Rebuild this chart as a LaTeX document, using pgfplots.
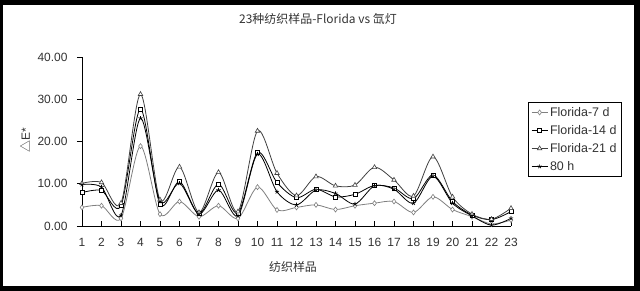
\documentclass[border=0pt]{standalone}
\usepackage{pgfplots}
\pgfplotsset{compat=1.18}
\usepackage{pgfplotstable}
\usepackage{fontspec}
\setmainfont{Liberation Sans}
\newfontfamily\cjk{Noto Sans CJK SC}
\definecolor{grayA}{HTML}{808080}
\definecolor{grayB}{HTML}{404040}
\definecolor{txt}{HTML}{333333}
\pgfplotstableread{
x d7 d14 d21 h80
1 4.4 7.9 10.1 9.8
2 4.8 8.4 10.3 9.2
3 1.8 4.8 5.4 2.5
4 18.9 27.7 31.2 25.5
5 2.8 5.1 6.2 5.8
6 5.8 10.5 14.0 10.1
7 2.2 2.9 3.2 2.8
8 4.8 9.9 12.7 8.5
9 1.8 3.0 3.4 2.4
10 9.2 17.4 22.5 17.0
11 3.8 10.3 12.5 8.1
12 4.4 6.7 7.2 5.0
13 5.0 8.7 11.7 8.5
14 3.9 6.9 9.5 7.7
15 4.8 7.5 9.7 5.2
16 5.4 9.6 13.9 9.5
17 5.8 9.0 10.9 8.7
18 3.2 6.5 7.1 5.4
19 6.9 12.1 16.4 11.8
20 3.9 5.8 6.9 5.4
21 2.2 2.6 2.8 2.4
22 0.5 1.5 1.6 0.2
23 1.4 3.4 4.2 1.8
}\data
\begin{document}
\begin{tikzpicture}
\fill[black] (0bp,0bp) rectangle (640bp,291bp);
\fill[white] (3bp,5bp) rectangle (634bp,286bp);
\node[font=\cjk\fontsize{12}{14}\selectfont, text=txt] at (318bp,272bp) {23种纺织样品-Florida vs 氙灯};
\node[font=\cjk\fontsize{12}{14}\selectfont, text=txt] at (293bp,24bp) {纺织样品};
\node[font=\fontsize{12}{14}\selectfont, text=txt, rotate=90] at (25bp,151bp) {{\cjk △}E*};
\begin{axis}[at={(82bp,65bp)}, anchor=south west, scale only axis,
  width=429bp, height=169bp,
  xmin=1, xmax=23, ymin=0, ymax=40, clip=false,
  axis lines=left, axis line style={-, black, line width=0.6pt},
  xtick={1,...,23}, ytick={0,10,20,30,40},
  tick align=outside, major tick length=5bp,
  tick style={black, line width=0.6pt},
  x tick style={yshift=5bp},
  /pgf/number format/assume math mode=true,
  yticklabel={\pgfmathprintnumber[fixed,fixed zerofill,precision=2]{\tick}},
  tick label style={font=\fontsize{12}{14}\selectfont, text=txt},
  y tick label style={xshift=-6bp},
  x tick label style={yshift=-4bp},
  every axis plot/.append style={smooth, tension=0.5, line width=0.8pt},
  legend style={at={(1.0396,0.734)}, anchor=north west, draw=black, line width=0.5pt,
    font=\fontsize{12.5}{14}\selectfont, text=txt, row sep=3.5bp, inner sep=3bp},
  legend cell align=left,
  legend image code/.code={\draw[mark repeat=2,mark phase=2,#1] plot coordinates {(0bp,0bp) (8bp,0bp) (16bp,0bp)};},
]
\addplot[grayA, mark=diamond*, mark size=2.5pt, mark options={fill=white, line width=0.6pt}] table[x=x,y=d7] {\data};
\addlegendentry{Florida-7 d}
\addplot[black, mark=square*, mark size=2pt, mark options={fill=white, line width=0.6pt}] table[x=x,y=d14] {\data};
\addlegendentry{Florida-14 d}
\addplot[grayB, mark=triangle*, mark size=2.6pt, mark options={fill=white, line width=0.6pt}] table[x=x,y=d21] {\data};
\addlegendentry{Florida-21 d}
\addplot[black, mark=star, mark size=2.2pt, mark options={line width=0.6pt}] table[x=x,y=h80] {\data};
\addlegendentry{80 h}
\end{axis}
\end{tikzpicture}
\end{document}
